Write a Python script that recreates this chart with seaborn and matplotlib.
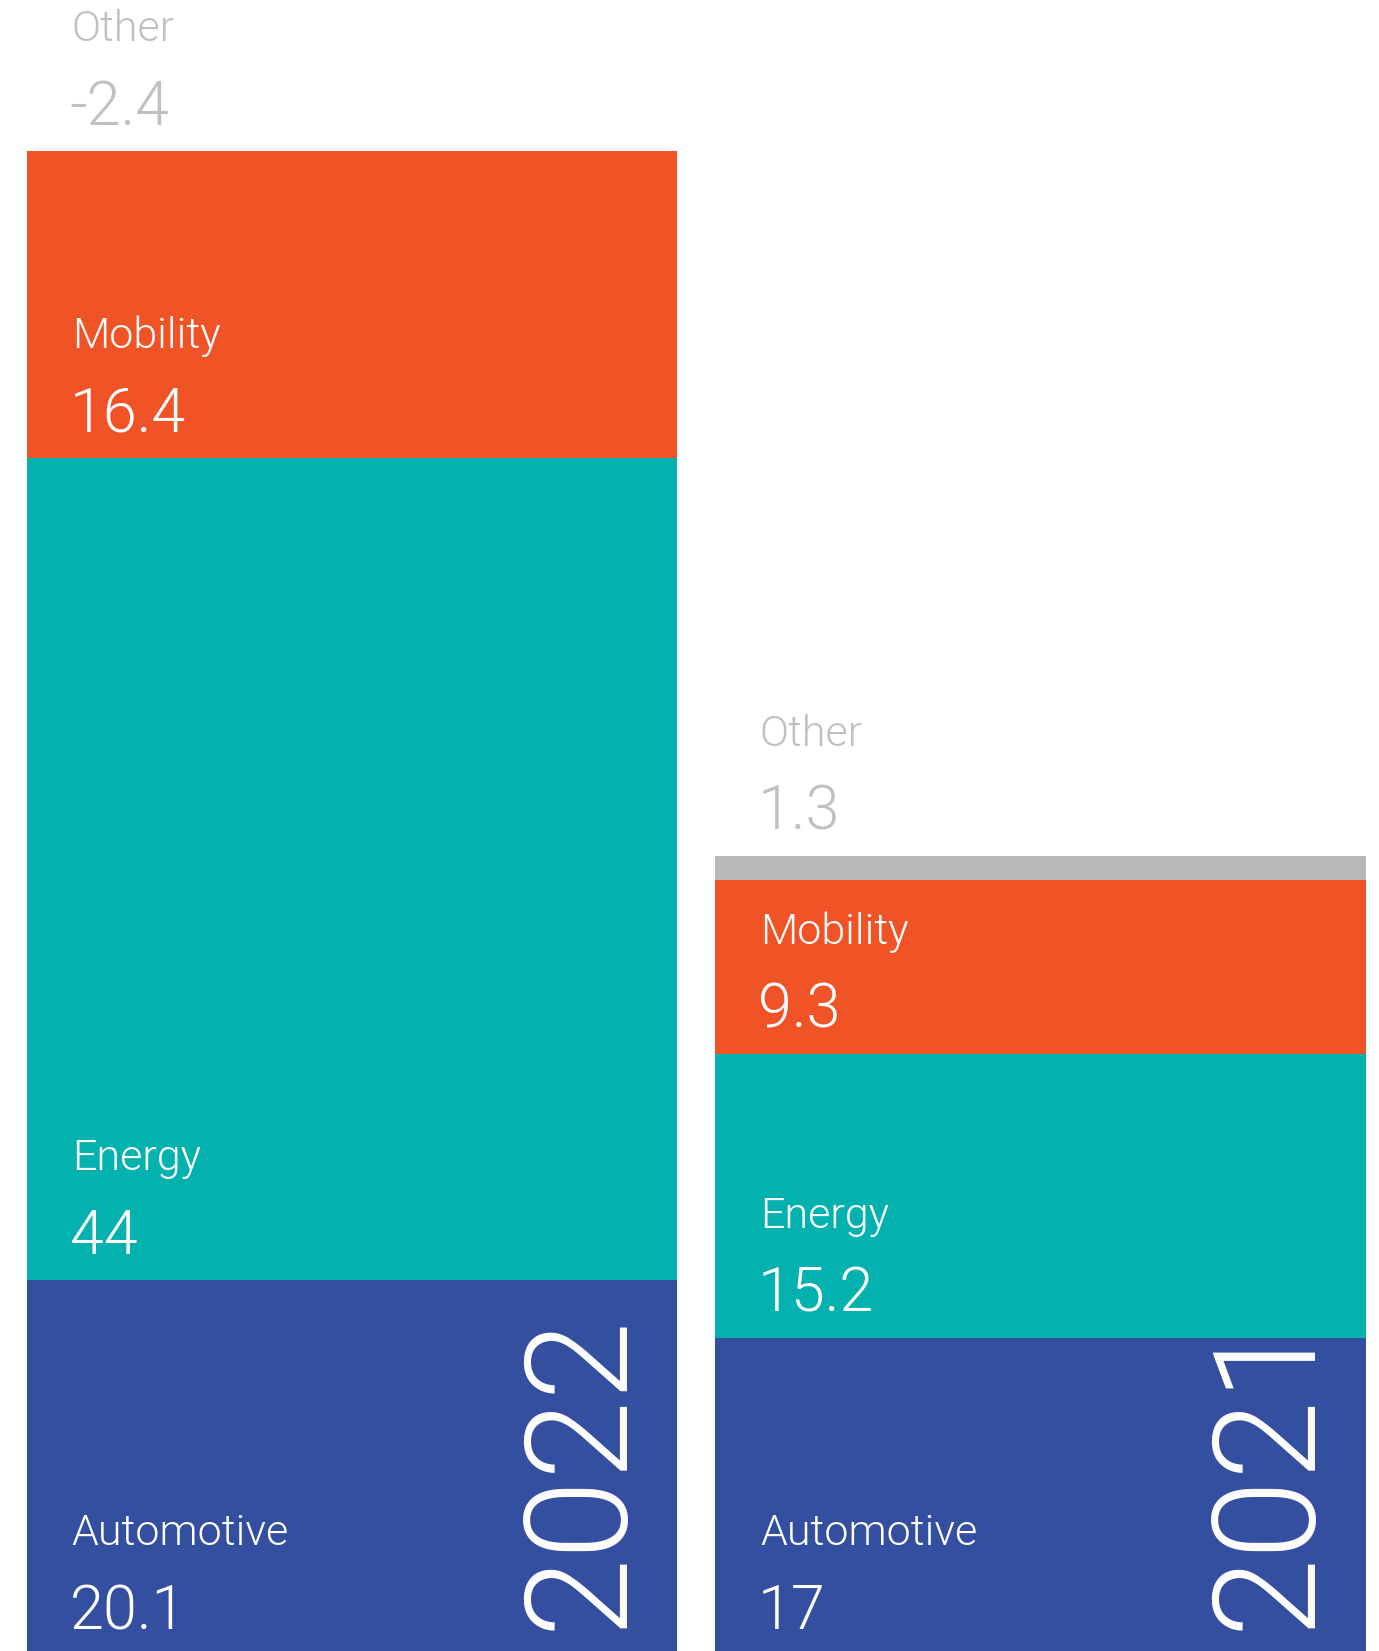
import matplotlib
matplotlib.use("Agg")
import matplotlib.pyplot as plt
import seaborn as sns
import numpy as np
import pandas as pd

# ---- data ----
years = ["2022", "2021"]
segments = ["Automotive", "Energy", "Mobility", "Other"]
automotive = [20.1, 17.0]
energy = [44.0, 15.2]
mobility = [16.4, 9.3]
other = [-2.4, 1.3]

colors = {"Automotive": "#354FA0", "Energy": "#03B2AF",
          "Mobility": "#F05326", "Other": "#B8B9BB"}

sns.set_theme(style="white")
plt.rcParams["font.family"] = ["Roboto", "DejaVu Sans"]

DPI = 100
fig = plt.figure(figsize=(13.79, 16.51), dpi=DPI)
ax = fig.add_axes([0, 0, 1, 1])

vals = np.array([automotive, energy, mobility, other])  # segment x year
cum = np.cumsum(vals, axis=0)
bottoms = np.vstack([np.zeros(len(years)), cum[:-1]])
W = 0.9455

# draw cumulative bars, largest stack first (overlapping)
for k in range(len(segments) - 1, -1, -1):
    df = pd.DataFrame({"year": years, "value": cum[k]})
    sns.barplot(data=df, x="year", y="value", order=years, color=colors[segments[k]],
                saturation=1, width=W, linewidth=0, ax=ax)

ax.set_xlim(-0.5115, 1.4923)
ax.set_ylim(0.24, 88.58)
ax.axis("off")

PT = 72 / DPI
lab_kw = dict(textcoords="offset points", ha="left", va="baseline",
              fontweight=300, annotation_clip=False)
for i, yr in enumerate(years):
    left = i - W / 2
    stack_top = max(cum[:, i])
    for k, seg in enumerate(segments):
        if seg == "Other":
            anchor = stack_top
            col = "#BFC0C2"
        else:
            anchor = bottoms[k, i]
            col = "white"
        v = vals[k, i]
        ax.annotate(seg, xy=(left, anchor), xytext=(45 * PT, 110 * PT),
                    color=col, fontsize=31, **lab_kw)
        ax.annotate(f"{v:g}", xy=(left, anchor), xytext=(43 * PT, 26 * PT),
                    color=col, fontsize=44, **lab_kw)
    ax.annotate(yr, xy=(i + W / 2, 0), xycoords=("data", "axes fraction"),
                xytext=(-57 * PT, 21 * PT), textcoords="offset points",
                rotation=90, rotation_mode="anchor", ha="left", va="baseline",
                color="white", fontsize=103, fontweight=300,
                annotation_clip=False)

fig.savefig("out.png", dpi=DPI)
